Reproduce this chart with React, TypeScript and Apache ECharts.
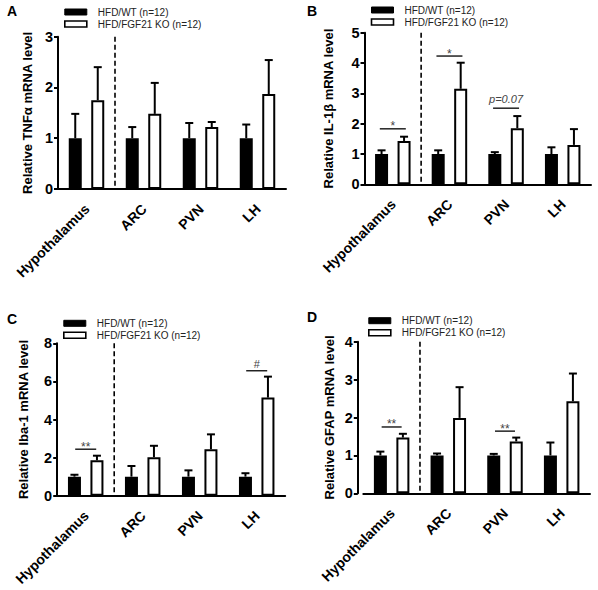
import React, { useEffect, useRef } from "react";
import * as echarts from "echarts";

// Brain regions shared by all four panels
const categories = ["Hypothalamus", "ARC", "PVN", "LH"];

const WT_NAME = "HFD/WT (n=12)";
const KO_NAME = "HFD/FGF21 KO (n=12)";

// Panel A: TNFα
const wtA = [1, 1, 1, 1];
const wtErrA = [0.48, 0.22, 0.3, 0.27];
const koA = [1.75, 1.48, 1.22, 1.87];
const koErrA = [0.65, 0.61, 0.1, 0.67];
const sigA: { cat: number; y: number; text: string }[] = [];

// Panel B: IL-1β
const wtB = [1, 1, 1, 1];
const wtErrB = [0.12, 0.12, 0.06, 0.22];
const koB = [1.43, 3.15, 1.85, 1.3];
const koErrB = [0.14, 0.86, 0.4, 0.52];
const sigB = [
  { cat: 0, y: 1.83, text: "*" },
  { cat: 1, y: 4.23, text: "*" },
  { cat: 2, y: 2.51, text: "p=0.07" },
];

// Panel C: Iba-1
const wtC = [1, 1, 1, 1];
const wtErrC = [0.1, 0.56, 0.33, 0.18];
const koC = [1.86, 2.02, 2.44, 5.15];
const koErrC = [0.24, 0.6, 0.78, 1.1];
const sigC = [
  { cat: 0, y: 2.44, text: "**" },
  { cat: 3, y: 6.56, text: "#" },
];

// Panel D: GFAP
const wtD = [1, 1, 1, 1];
const wtErrD = [0.1, 0.05, 0.04, 0.34];
const koD = [1.47, 1.99, 1.37, 2.43];
const koErrD = [0.1, 0.81, 0.1, 0.73];
const sigD = [
  { cat: 0, y: 1.75, text: "**" },
  { cat: 2, y: 1.64, text: "**" },
];

// y-axis settings per panel
const yNames = [
  "Relative TNFα mRNA level",
  "Relative IL-1β mRNA level",
  "Relative Iba-1 mRNA level",
  "Relative GFAP mRNA level",
];
const yMax = [3, 5, 8, 4];
const yStep = [1, 1, 2, 1];
const letters = ["A", "B", "C", "D"];

const FONT = '"Liberation Sans", Arial, Helvetica, sans-serif';

// Layout (pixels)
const GRIDS = [
  { left: 58, top: 36.7, width: 228, height: 152.3 },
  { left: 364.5, top: 32.7, width: 226.5, height: 151.6 },
  { left: 57.2, top: 343.3, width: 228, height: 152.4 },
  { left: 363.3, top: 341.7, width: 226.7, height: 151.6 },
];
const Y_OFFSET = [0, 0, 0, 5.5];
const NAME_GAP = [24, 30, 27.5, 22];
const LEGEND_POS = [
  { left: 64, top: 6 },
  { left: 370.7, top: 4 },
  { left: 63, top: 317.3 },
  { left: 368, top: 314.7 },
];
const LETTER_POS = [
  { x: 7, y: 4 },
  { x: 307, y: 4 },
  { x: 7, y: 312 },
  { x: 307, y: 310 },
];
const SIG_HALF = [10, 13, 10.5, 10];

const BAR_W = 13;
const BAR_OFF = 11.25;
const CAP = 8;
const LABEL_DX = 0.5;
const LABEL_DY = 17.5;

const panels = [
  { wt: wtA, wtErr: wtErrA, ko: koA, koErr: koErrA, sig: sigA },
  { wt: wtB, wtErr: wtErrB, ko: koB, koErr: koErrB, sig: sigB },
  { wt: wtC, wtErr: wtErrC, ko: koC, koErr: koErrC, sig: sigC },
  { wt: wtD, wtErr: wtErrD, ko: koD, koErr: koErrD, sig: sigD },
];

function errorSeries(i: number, means: number[], errs: number[], offset: number) {
  return {
    type: "custom",
    xAxisIndex: i,
    yAxisIndex: i,
    z: 5,
    silent: true,
    clip: false,
    data: means.map((m, j) => [j, m, errs[j]]),
    renderItem: (_params: any, api: any) => {
      const base = api.coord([api.value(0), api.value(1)]);
      const top = api.coord([api.value(0), api.value(1) + api.value(2)]);
      const x = base[0] + offset;
      const style = { stroke: "#000", lineWidth: 2 };
      return {
        type: "group",
        children: [
          { type: "line", shape: { x1: x, y1: base[1], x2: x, y2: top[1] }, style },
          { type: "line", shape: { x1: x - CAP / 2, y1: top[1], x2: x + CAP / 2, y2: top[1] }, style },
        ],
      };
    },
  };
}

// Dashed divider between the whole hypothalamus and its nuclei
function separatorSeries(i: number) {
  return {
    type: "custom",
    xAxisIndex: i,
    yAxisIndex: i,
    z: 4,
    silent: true,
    clip: false,
    data: [[0, yMax[i]]],
    renderItem: (_params: any, api: any) => {
      const top = api.coord([0, api.value(1)]);
      const bottom = api.coord([0, 0]);
      const x = top[0] + api.size([1, 0])[0] / 2;
      return {
        type: "line",
        shape: { x1: x, y1: top[1], x2: x, y2: bottom[1] },
        style: { stroke: "#000", lineWidth: 1.6, lineDash: [5, 3] },
      };
    },
  };
}

function sigSeries(i: number, sig: { cat: number; y: number; text: string }[]) {
  return {
    type: "custom",
    xAxisIndex: i,
    yAxisIndex: i,
    z: 6,
    silent: true,
    clip: false,
    data: sig.map((s) => [s.cat, s.y]),
    renderItem: (params: any, api: any) => {
      const s = sig[params.dataIndex];
      const p = api.coord([api.value(0), api.value(1)]);
      const half = SIG_HALF[i];
      const isStar = s.text.includes("*");
      const lift = isStar ? 2.5 : s.text === "#" ? 7 : 9;
      return {
        type: "group",
        children: [
          {
            type: "line",
            shape: { x1: p[0] - half, y1: p[1], x2: p[0] + half, y2: p[1] },
            style: { stroke: "#222", lineWidth: 1.5 },
          },
          {
            type: "text",
            style: {
              x: p[0],
              y: p[1] - lift,
              text: s.text,
              align: "center",
              verticalAlign: "middle",
              fill: "#444",
              fontSize: isStar ? 12 : 11,
              fontStyle: s.text.startsWith("p") ? "italic" : "normal",
              fontFamily: FONT,
            },
          },
        ],
      };
    },
  };
}

export default function App() {
  const ref = useRef<HTMLDivElement>(null);

  useEffect(() => {
    if (!ref.current) return;
    const chart = echarts.init(ref.current, undefined, { renderer: "svg" });

    const series: any[] = [];
    panels.forEach((p, i) => {
      series.push({
        type: "bar",
        name: WT_NAME,
        xAxisIndex: i,
        yAxisIndex: i,
        data: p.wt,
        barWidth: BAR_W,
        barGap: "73%",
        itemStyle: { color: "#000", borderColor: "#000", borderWidth: 2 },
        silent: true,
      });
      series.push({
        type: "bar",
        name: KO_NAME,
        xAxisIndex: i,
        yAxisIndex: i,
        data: p.ko,
        barWidth: BAR_W,
        barGap: "73%",
        itemStyle: { color: "#fff", borderColor: "#000", borderWidth: 2 },
        silent: true,
      });
      series.push(errorSeries(i, p.wt, p.wtErr, -BAR_OFF));
      series.push(errorSeries(i, p.ko, p.koErr, BAR_OFF));
      series.push(separatorSeries(i));
      series.push(sigSeries(i, p.sig));
    });

    const letterGraphics = letters.map((t, i) => ({
      type: "text",
      left: LETTER_POS[i].x,
      top: LETTER_POS[i].y,
      style: { text: t, fontSize: 14, fontWeight: "bold", fill: "#000", fontFamily: FONT },
    }));

    chart.setOption({
      animation: false,
      backgroundColor: "#fff",
      textStyle: { fontFamily: FONT },
      grid: GRIDS.map((g) => ({ ...g, containLabel: false })),
      xAxis: GRIDS.map((_g, i) => ({
        type: "category",
        gridIndex: i,
        data: categories,
        axisLine: { lineStyle: { color: "#000", width: 2 } },
        axisTick: { alignWithLabel: true, length: 5, lineStyle: { color: "#000", width: 2 } },
        axisLabel: { show: false },
      })),
      yAxis: GRIDS.map((_g, i) => ({
        type: "value",
        gridIndex: i,
        min: 0,
        max: yMax[i],
        interval: yStep[i],
        offset: Y_OFFSET[i],
        name: yNames[i],
        nameLocation: "middle",
        nameRotate: 90,
        nameGap: NAME_GAP[i],
        nameTextStyle: { color: "#000", fontWeight: "bold", fontSize: 13, fontFamily: FONT },
        axisLine: { show: true, lineStyle: { color: "#000", width: 2 } },
        axisTick: { show: true, length: 4, lineStyle: { color: "#000", width: 2 } },
        splitLine: { show: false },
        axisLabel: { color: "#000", fontWeight: "bold", fontSize: 14.5, margin: 5, fontFamily: FONT },
      })),
      legend: LEGEND_POS.map((pos) => ({
        ...pos,
        orient: "vertical",
        padding: 0,
        itemGap: 0,
        itemWidth: 22,
        itemHeight: 6,
        selectedMode: false,
        icon: "rect",
        textStyle: { fontSize: 10, color: "#222", lineHeight: 12, fontFamily: FONT, padding: [0, 0, 0, 6] },
        data: [
          { name: WT_NAME, itemStyle: { color: "#000", borderColor: "#000", borderWidth: 1 } },
          { name: KO_NAME, itemStyle: { color: "#fff", borderColor: "#000", borderWidth: 1.6 } },
        ],
      })),
      graphic: letterGraphics,
      series,
    });

    // Region names under each tick, slanted at 45°, placed through each grid's own scale
    const regionLabels: any[] = [];
    GRIDS.forEach((_g, i) => {
      categories.forEach((c, j) => {
        const p = chart.convertToPixel({ gridIndex: i }, [j, 0]) as number[];
        regionLabels.push({
          type: "text",
          x: p[0] + LABEL_DX,
          y: p[1] + LABEL_DY,
          rotation: Math.PI / 4,
          style: {
            text: c,
            align: "right",
            verticalAlign: "middle",
            fill: "#000",
            fontSize: 14,
            fontWeight: "bold",
            fontFamily: FONT,
          },
        });
      });
    });
    chart.setOption({ graphic: [...letterGraphics, ...regionLabels] });

    return () => chart.dispose();
  }, []);

  return (
    <div
      ref={ref}
      style={{ position: "absolute", left: 0, top: 0, width: 598, height: 590, background: "#fff" }}
    />
  );
}
